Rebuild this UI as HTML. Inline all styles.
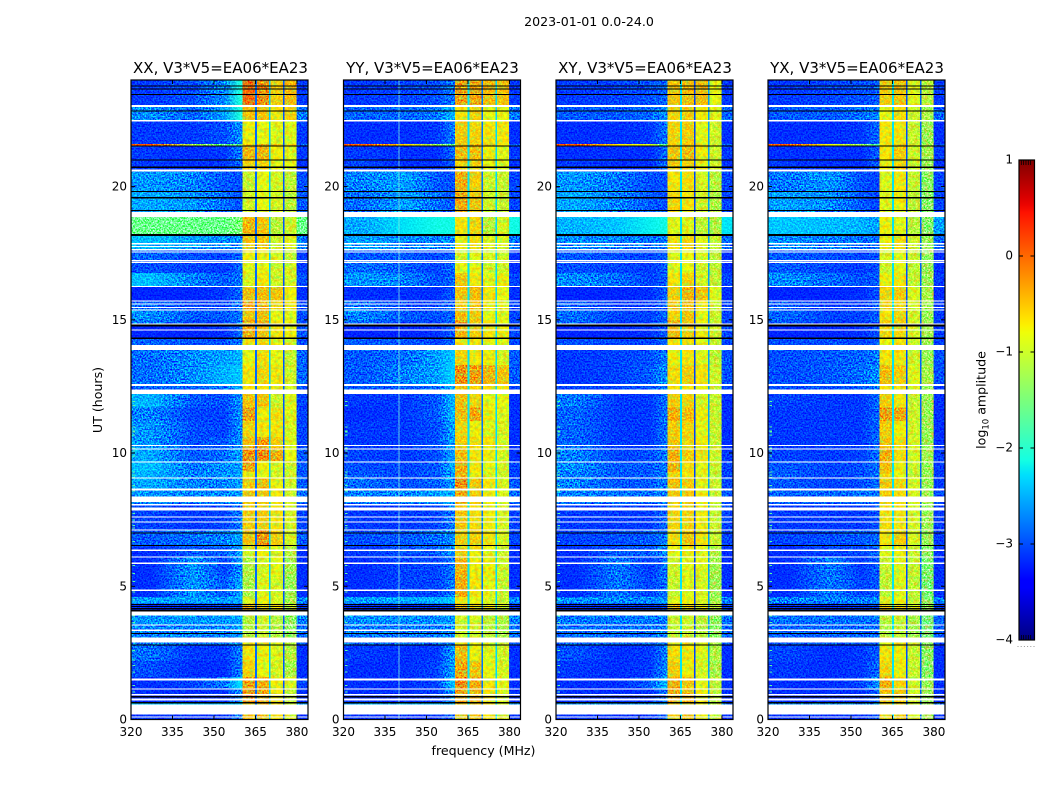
<!DOCTYPE html>
<html lang="en">
<head>
<meta charset="utf-8">
<title>2023-01-01 0.0-24.0</title>
<style>
html,body{margin:0;padding:0;background:#fff;width:1050px;height:800px;overflow:hidden}
svg{display:block}
text{font-family:"DejaVu Sans","Liberation Sans",sans-serif;fill:#000}
.tick{font-size:12px}
.title{font-size:15px}
.label{font-size:12.6px}
.heat-root{isolation:isolate}
.noise{mix-blend-mode:overlay}
</style>
</head>
<body>
<svg id="figure" width="1050" height="800" viewBox="0 0 1050 800" xmlns="http://www.w3.org/2000/svg">
  <defs id="defs">
    <filter id="speckle" x="0" y="0" width="1" height="1" color-interpolation-filters="sRGB">
      <feTurbulence type="fractalNoise" baseFrequency="0.62" numOctaves="2" seed="7"/>
      <feColorMatrix type="matrix" values="2.4 0 0 0 -0.7  2.4 0 0 0 -0.7  2.4 0 0 0 -0.7  0 0 0 0 1"/>
    </filter>
    <filter id="band-speckle-green" x="0" y="0" width="1" height="1" color-interpolation-filters="sRGB">
      <feTurbulence type="fractalNoise" baseFrequency="0.3" numOctaves="2" seed="11"/>
      <feColorMatrix type="matrix" values="0 0 0 0 0.35  0 0 0 0 1  0 0 0 0 0.45  1.5 0 0 0 -0.65"/>
    </filter>
    <filter id="band-speckle-orange" x="0" y="0" width="1" height="1" color-interpolation-filters="sRGB">
      <feTurbulence type="fractalNoise" baseFrequency="0.28" numOctaves="2" seed="23"/>
      <feColorMatrix type="matrix" values="0 0 0 0 1  0 0 0 0 0.55  0 0 0 0 0  1.3 0 0 0 -0.58"/>
    </filter>
    <linearGradient id="jet-gradient" x1="0" y1="1" x2="0" y2="0"></linearGradient>
  </defs>
  <rect width="1050" height="800" fill="#fff"/>
  <text x="589" y="26" text-anchor="middle" style="font-size:12.6px">2023-01-01 0.0-24.0</text>

  <g id="panel-xx"><text class="title" x="220.5" y="73" text-anchor="middle">XX, V3*V5=EA06*EA23</text></g>
  <g id="panel-yy"><text class="title" x="432.5" y="73" text-anchor="middle">YY, V3*V5=EA06*EA23</text></g>
  <g id="panel-xy"><text class="title" x="645" y="73" text-anchor="middle">XY, V3*V5=EA06*EA23</text></g>
  <g id="panel-yx"><text class="title" x="857" y="73" text-anchor="middle">YX, V3*V5=EA06*EA23</text></g>

  <text class="label" x="483.5" y="755" text-anchor="middle">frequency (MHz)</text>
  <text class="label" transform="translate(102,400) rotate(-90)" text-anchor="middle">UT (hours)</text>

  <g id="colorbar">
    <rect x="1019" y="160" width="15.5" height="480" fill="url(#jet-gradient)"/>
    <line x1="1017.5" y1="646.5" x2="1034.5" y2="646.5" stroke="#999" stroke-width="1" stroke-dasharray="1 2.2"/>
    <text class="label" transform="translate(985.5,400) rotate(-90)" text-anchor="middle">log<tspan dy="3" font-size="8.5">10</tspan><tspan dy="-3"> amplitude</tspan></text>
  </g>
</svg>

<script>
/* Shared axis values */
const xTickLabels = [320, 335, 350, 365, 380];
const yTickLabels = [0, 5, 10, 15, 20];
const colorbarTicks = [1, 0, -1, -2, -3, -4];
const colorbarMinorOffsets = [0.15, 0.3, 0.45, 0.6, 0.75];

/* Row boundaries in UT (hours), top to bottom */
const rowEdgesUT = [24,23,22.5,21.6,21.54,21,20.6,19.8,19.05,18.2,17.6,17.2,16.75,16.25,15.7,15.4,15,14.8,14.3,14,13.3,12.6,12.3,11.7,11.2,10.6,10.2,9.7,9.3,9.05,8.6,8.1,7.1,6.5,6.1,5.4,4.6,4.35,4.05,3.55,3.1,2.8,2.2,1.6,1.15,0.6,0.2,0];

/* Frequency bins in MHz; negative index = gap between sub-bands */
const freqEdges = [320,335,350,358,360.4,364.8,365.5,369.9,370.5,374.9,375.5,379.9,384];
const freqLevelIndex = [0,1,2,3,4,-1,5,-2,6,-3,7,8];
const lowBandCenters = [327.5,342.5,354,359.4];

/* Level of the three narrow sub-band gaps per panel */
const gapLevelsXX = [-2.85,-2.35,-2.95];
const gapLevelsYY = [-2.25,-2.8,-2.3];
const gapLevelsXY = [-2.25,-3.05,-2.6];
const gapLevelsYX = [-2.25,-3,-2.9];

/* Flagged (white) UT intervals */
const flaggedUT = [[22.99,23.06],[22.45,22.5],[20.56,20.64],[18.86,19.05],[17.83,17.88],[17.73,17.77],[17.6,17.65],[17.52,17.56],[17.2,17.24],[17.14,17.18],[16.23,16.27],[15.69,15.73],[15.57,15.61],[15.46,15.49],[15.35,15.38],[14.83,14.87],[14.6,14.64],[13.87,14.05],[12.52,12.6],[12.22,12.38],[10.27,10.31],[10.13,10.17],[9.64,9.68],[9.04,9.08],[8.59,8.66],[8.17,8.36],[8.04,8.08],[7.84,7.95],[7.58,7.62],[7.39,7.43],[7.09,7.13],[6.32,6.38],[6.08,6.11],[5.84,5.89],[4.83,4.88],[3.9,4.05],[3.53,3.56],[3.33,3.38],[2.89,3.08],[1.46,1.54],[1.13,1.16],[0.9,0.96],[0.71,0.79],[0.19,0.56],[0.08,0.11]];

/* Zero-amplitude (black) UT lines: [ut, thickness in hours] */
const blackUT = [[23.78,0.04],[23.66,0.04],[23.46,0.04],[22.84,0.04],[21.53,0.04],[20.99,0.04],[20.73,0.06],[19.81,0.04],[19.58,0.04],[19.11,0.04],[18.18,0.07],[14.78,0.07],[14.31,0.07],[7,0.04],[6.53,0.04],[4.32,0.045],[4.24,0.045],[4.16,0.045],[4.08,0.045],[3.23,0.04],[2.79,0.04],[0.86,0.05],[0.63,0.05]];

/* UT of the small green specks along the left edge of every panel */
const edgeSpeckUT = [11.95,11.8,11,10.85,10.8,10.7,10.2,10.1,9.9,9.3,9.2,9.1,8.8,8.6,7.75,7.5,7.3,7.2,6.7,5.8,5.5,5.2,4.8,4.5,3.9,3.65,2.6,2.25,2.05,1.8,1.5,1.3,1.05];
const edgeSpeckLevel = -1.7;

/* log10 amplitude per row: 320-335, 335-350, 350-358, 358-360, four bands, 380-384 */
const levelsXX = [
[-3.1,-3.0,-2.7,-2.1,0.1,-.15,-.55,-.45,-3.1],
[-2.7,-2.9,-2.6,-2.1,-.5,-.5,-.7,-.6,-2.8],
[-3.1,-3.1,-3.0,-2.7,-.75,-.8,-.85,-.85,-3.1],
[0.1,-1.2,-1.6,-1.6,-.5,-.3,-.5,-.6,-2.9],
[-3.1,-3.15,-3.1,-2.8,-.4,-.4,-.75,-.85,-3.1],
[-3.1,-3.15,-3.1,-2.9,-.6,-.6,-.8,-.8,-3.15],
[-2.65,-2.75,-2.95,-3,-1,-.8,-.9,-1.05,-3],
[-2.55,-2.65,-2.85,-3,-.95,-.8,-.9,-1.05,-2.95],
[-1.6,-1.6,-1.6,-1.5,-.4,-.5,-1.1,-.95,-1.6],
[-2.45,-2.6,-2.7,-2.7,-.5,-.5,-.95,-.85,-2.8],
[-2.9,-3,-3.05,-2.9,-.75,-.75,-.85,-1,-3.1],
[-3,-3.05,-3.1,-2.9,-.85,-.8,-.95,-.9,-3.1],
[-2.45,-2.75,-2.95,-2.8,-.9,-.7,-.95,-.9,-3],
[-3.2,-3.2,-3.1,-2.9,-.45,-.45,-.5,-.75,-3.15],
[-2.9,-3.05,-3.05,-2.8,-.3,-.35,-.6,-.7,-3],
[-2.7,-2.95,-2.95,-2.8,-.5,-.45,-.8,-.85,-3],
[-2.8,-3.05,-3.05,-2.8,-.3,-.4,-.7,-.8,-3],
[-3.2,-3.2,-3.15,-2.9,-.35,-.5,-.7,-.75,-3],
[-2.9,-3,-3,-2.8,-.7,-.6,-.8,-.9,-3],
[-2.85,-2.7,-2.6,-2.5,-.8,-.65,-.8,-1,-2.9],
[-2.85,-2.7,-2.5,-2.4,-.7,-.6,-.7,-.95,-2.9],
[-2.9,-2.9,-2.85,-2.6,-.7,-.7,-.7,-.9,-3],
[-2.5,-2.95,-3,-2.7,-.5,-.5,-.95,-.85,-3.05],
[-2.75,-3.05,-3.05,-2.7,-.25,-.75,-.65,-.85,-3.05],
[-2.65,-3,-3.05,-2.7,-.6,-.7,-.7,-.9,-3.05],
[-2.65,-3,-2.95,-2.7,-.45,-.25,-.55,-.85,-3.05],
[-2.55,-2.95,-2.85,-2.6,-.15,-.1,-.35,-.8,-2.95],
[-2.45,-2.8,-2.7,-2.6,-.3,-.75,-.85,-.95,-2.95],
[-2.5,-2.75,-2.65,-2.6,-.75,-.8,-.9,-.95,-2.95],
[-2.55,-2.75,-2.75,-2.6,-.55,-.45,-.75,-.95,-2.95],
[-2.65,-2.75,-2.75,-2.6,-.5,-.5,-.7,-.95,-2.85],
[-3.05,-3.1,-3.05,-2.8,-.55,-.55,-.7,-.9,-3.05],
[-2.95,-2.85,-2.75,-2.6,-.5,-.2,-.55,-.9,-2.95],
[-3.15,-2.95,-2.95,-2.6,-.9,-.75,-.85,-1.1,-3.15],
[-3.15,-2.65,-3.05,-2.7,-1.15,-.9,-.8,-1.25,-3.15],
[-3.15,-2.65,-2.95,-2.6,-1.2,-.85,-.9,-1.3,-3.15],
[-2.6,-2.6,-2.6,-2.55,-.9,-.75,-.9,-1.2,-2.75],
[-3.15,-3.15,-3.1,-3,-.4,-.6,-.7,-1,-3.1],
[-2.65,-2.65,-2.65,-2.6,-1.1,-.95,-1.1,-1.4,-2.75],
[-2.75,-2.75,-2.75,-2.6,-1.15,-1,-1.15,-1.4,-2.85],
[-2.75,-2.85,-2.85,-2.7,-.7,-.6,-.8,-1.1,-2.95],
[-2.85,-3.1,-3.1,-2.8,-.7,-.75,-.85,-1.1,-3.15],
[-3,-3.15,-3.15,-2.8,-.6,-.8,-.9,-1.2,-3.15],
[-3.15,-3.05,-2.8,-2.3,-.25,-.35,-.75,-.85,-3.05],
[-3.15,-3.15,-3.15,-2.7,-.2,-.3,-.7,-1,-3.15],
[-2.4,-2.4,-2.4,-2.4,-.5,-.4,-.7,-1,-2.6],
[-3.15,-3.15,-3.15,-2.8,-.5,-.4,-.7,-.9,-3.15]
];
const levelsYY = [
[-3.1,-3.05,-3,-2.8,-.25,-.3,-.45,-.5,-3.1],
[-2.9,-2.9,-2.8,-2.5,-.7,-.6,-.8,-.8,-2.8],
[-3.15,-3.15,-3.1,-2.8,-.55,-.6,-.7,-.7,-3.15],
[0.1,-.6,-1.3,-1.6,-.45,-.4,-.5,-.7,-2.9],
[-3.1,-3.15,-3.15,-2.9,-.45,-.45,-.75,-.85,-3.1],
[-3.05,-3.15,-3.15,-2.95,-.6,-.55,-.8,-.85,-3.15],
[-2.75,-2.6,-2.95,-3,-.35,-.55,-.95,-1,-3.05],
[-2.85,-2.6,-2.85,-2.95,-.3,-.5,-.95,-1,-3.05],
[-2.55,-2.25,-2.15,-2.15,-.7,-.6,-1.1,-.9,-2.15],
[-2.6,-2.7,-2.75,-2.7,-.75,-.65,-.85,-.85,-2.8],
[-2.95,-2.95,-3.05,-2.9,-.9,-.85,-.9,-.95,-3.15],
[-2.85,-2.95,-3.05,-2.9,-.8,-.8,-.95,-.95,-3.15],
[-2.65,-2.75,-3,-2.9,-.5,-.7,-.85,-.75,-3.05],
[-3.15,-3.15,-3.15,-2.95,-.5,-.45,-.7,-.8,-3.15],
[-2.85,-3.05,-3.05,-2.9,-.55,-.5,-.75,-.8,-3.05],
[-2.75,-2.95,-3,-2.9,-.45,-.55,-.8,-.85,-3.05],
[-2.85,-3.05,-3.05,-2.9,-.3,-.5,-.7,-.8,-3.05],
[-3.2,-3.2,-3.15,-2.95,-.4,-.55,-.7,-.75,-3.05],
[-2.95,-2.95,-3.05,-2.9,-.7,-.7,-.8,-.85,-3.05],
[-2.95,-2.85,-2.6,-2.4,-.6,-.7,-.75,-.9,-2.95],
[-2.95,-2.75,-2.6,-2.35,-.15,-.25,-.4,-.5,-2.95],
[-2.95,-2.95,-2.85,-2.55,-.5,-.6,-.65,-.7,-3.05],
[-3.1,-3.1,-2.95,-2.5,-.45,-.6,-.8,-.8,-3.15],
[-3.15,-3.1,-2.95,-2.5,-.45,-.3,-.75,-.85,-3.15],
[-3.1,-3.1,-3,-2.6,-.6,-.75,-.85,-.9,-3.15],
[-3.1,-3.1,-3,-2.6,-.55,-.65,-.7,-.9,-3.15],
[-3.05,-3.1,-3,-2.6,-.45,-.7,-.75,-.9,-3.15],
[-3,-3.05,-2.95,-2.55,-.35,-.7,-.8,-.9,-3.05],
[-2.95,-3.05,-2.95,-2.6,-.4,-.75,-.85,-.95,-3.05],
[-2.85,-3,-2.9,-2.65,-.1,-.5,-.7,-.9,-2.95],
[-2.75,-2.75,-2.6,-2.55,-.3,-.55,-.75,-.9,-2.85],
[-3.1,-3.1,-3.05,-2.8,-.5,-.65,-.75,-.9,-3.05],
[-3,-2.95,-2.85,-2.7,-.55,-.55,-.7,-.9,-3.05],
[-3.1,-3,-2.95,-2.7,-.55,-.75,-.85,-1,-3.15],
[-3.15,-3.05,-3.05,-2.8,-.4,-.75,-.75,-.95,-3.15],
[-3.15,-3.05,-3.05,-2.8,-.35,-.7,-.8,-1,-3.15],
[-2.6,-2.55,-2.5,-2.4,-.7,-.8,-.9,-1,-2.75],
[-3.15,-3.15,-3.1,-3.05,-.4,-.6,-.7,-.9,-3.1],
[-2.7,-2.7,-2.7,-2.65,-.95,-.9,-1.05,-1.15,-2.75],
[-2.8,-2.8,-2.8,-2.7,-.95,-.95,-1.1,-1.2,-2.85],
[-2.85,-2.85,-2.85,-2.75,-.7,-.75,-.85,-1,-2.95],
[-3.1,-3.15,-3.1,-2.65,-.45,-.75,-.85,-.95,-3.15],
[-3.15,-3.15,-3.05,-2.6,-.3,-.5,-.8,-.9,-3.15],
[-3.15,-3.15,-3.05,-2.45,-.1,-.35,-.7,-.8,-3.15],
[-3.15,-3.15,-3.1,-2.7,-.3,-.4,-.7,-.85,-3.15],
[-2.5,-2.5,-2.5,-2.5,-.5,-.5,-.7,-.9,-2.65],
[-3.15,-3.15,-3.15,-2.9,-.5,-.45,-.7,-.9,-3.15]
];
const levelsXY = [
[-3.1,-3.05,-3,-2.9,-.5,-.45,-.45,-.8,-3.1],
[-2.95,-2.95,-2.9,-2.7,-.6,-.55,-.75,-.85,-2.9],
[-3.15,-3.15,-3.1,-2.85,-.6,-.55,-.8,-.95,-3.15],
[0.1,-.7,-.9,-1.7,-.5,-.45,-.65,-.9,-2.95],
[-3.15,-3.15,-3.15,-2.9,-.5,-.45,-.75,-.95,-3.1],
[-3.1,-3.15,-3.15,-2.9,-.55,-.6,-.8,-.95,-3.15],
[-2.65,-2.8,-3,-3,-.7,-.65,-.9,-1.1,-3.05],
[-2.55,-2.75,-2.95,-3,-.6,-.7,-.95,-1.15,-3.05],
[-2.5,-2.4,-2.2,-2.15,-.85,-.85,-1.05,-1.15,-2.25],
[-2.7,-2.75,-2.85,-2.8,-.65,-.6,-.85,-1,-2.85],
[-2.95,-3,-3.05,-2.95,-.85,-.8,-.9,-1.1,-3.15],
[-3,-3.05,-3.1,-2.95,-.85,-.8,-.95,-1.05,-3.15],
[-2.7,-2.85,-3.05,-2.95,-.7,-.6,-.9,-1.05,-3.05],
[-3.2,-3.2,-3.15,-2.95,-.55,-.4,-.5,-.85,-3.15],
[-2.95,-3.1,-3.1,-2.9,-.5,-.45,-.7,-.95,-3.05],
[-2.85,-3.05,-3.05,-2.9,-.6,-.5,-.8,-1,-3.05],
[-2.9,-3.1,-3.1,-2.9,-.4,-.5,-.75,-.95,-3.05],
[-3.2,-3.2,-3.15,-2.95,-.45,-.55,-.75,-.95,-3.05],
[-3,-3.05,-3.05,-2.9,-.7,-.65,-.8,-1,-3.05],
[-3.1,-3.05,-3,-2.8,-.75,-.7,-.85,-1.05,-3],
[-3.1,-3.05,-2.95,-2.7,-.65,-.55,-.7,-.95,-3],
[-3.05,-3.05,-3,-2.8,-.7,-.7,-.75,-1,-3.05],
[-2.8,-3.1,-3.1,-2.85,-.55,-.6,-.9,-1,-3.15],
[-2.9,-3.1,-3.1,-2.85,-.35,-.45,-.75,-1,-3.15],
[-2.9,-3.1,-3.1,-2.85,-.55,-.6,-.8,-1,-3.15],
[-2.9,-3.1,-3.1,-2.85,-.5,-.6,-.75,-1,-3.15],
[-2.75,-3.05,-3,-2.8,-.35,-.55,-.7,-.95,-3.1],
[-2.7,-2.95,-2.95,-2.8,-.35,-.65,-.8,-1,-3.05],
[-2.75,-2.95,-2.95,-2.8,-.6,-.7,-.85,-1.05,-3.05],
[-2.75,-2.95,-2.95,-2.8,-.45,-.55,-.8,-1,-3.05],
[-2.75,-2.85,-2.85,-2.75,-.5,-.55,-.75,-1,-2.95],
[-3.1,-3.1,-3.1,-2.9,-.6,-.6,-.75,-1,-3.05],
[-3.05,-3,-2.95,-2.8,-.65,-.5,-.7,-1,-3.05],
[-3.15,-2.95,-2.95,-2.75,-.8,-.75,-.85,-1.15,-3.15],
[-3.15,-2.8,-3.1,-2.85,-.95,-.85,-.85,-1.25,-3.15],
[-3.15,-2.8,-3.05,-2.85,-1,-.85,-.9,-1.3,-3.15],
[-2.7,-2.7,-2.7,-2.65,-.85,-.75,-.9,-1.2,-2.75],
[-3.15,-3.15,-3.1,-3.05,-.5,-.6,-.75,-1.05,-3.1],
[-2.8,-2.8,-2.8,-2.75,-1,-.95,-1.1,-1.4,-2.85],
[-2.85,-2.85,-2.85,-2.75,-1.05,-1,-1.15,-1.4,-2.9],
[-2.9,-2.9,-2.9,-2.8,-.7,-.65,-.85,-1.15,-2.95],
[-3,-3.15,-3.1,-2.8,-.65,-.7,-.85,-1.15,-3.15],
[-3.1,-3.15,-3.1,-2.75,-.55,-.75,-.9,-1.2,-3.15],
[-3.15,-3.15,-2.95,-2.5,-.35,-.5,-.8,-1.05,-3.15],
[-3.15,-3.15,-3.15,-2.8,-.35,-.45,-.75,-1.05,-3.15],
[-2.6,-2.6,-2.6,-2.6,-.55,-.5,-.75,-1.05,-2.75],
[-3.15,-3.15,-3.15,-2.9,-.55,-.5,-.75,-1,-3.15]
];
const levelsYX = [
[-3.1,-3.05,-3,-2.95,-.55,-.5,-.85,-1.1,-3.1],
[-2.95,-2.95,-2.85,-2.75,-.8,-.65,-.95,-1.2,-2.9],
[-3.15,-3.15,-3.1,-2.9,-.7,-.7,-1,-1.3,-3.15],
[0.1,-.8,-1.3,-1.8,-.7,-.5,-.9,-1.2,-3],
[-3.15,-3.15,-3.15,-2.95,-.7,-.55,-.95,-1.25,-3.1],
[-3.1,-3.15,-3.15,-2.95,-.75,-.6,-.95,-1.3,-3.15],
[-2.8,-2.65,-3,-3.05,-.85,-.7,-1,-1.4,-3.05],
[-2.6,-2.7,-2.95,-3.05,-.85,-.75,-1.05,-1.45,-3.05],
[-2.4,-2.45,-2.5,-2.6,-.75,-.85,-1.1,-1.45,-2.6],
[-2.7,-2.75,-2.85,-2.85,-.75,-.65,-.95,-1.3,-2.9],
[-2.95,-3,-3.05,-3,-.9,-.8,-1,-1.35,-3.15],
[-2.95,-3.05,-3.1,-3,-.95,-.8,-1.05,-1.35,-3.15],
[-2.7,-2.85,-3,-2.95,-.75,-.7,-1,-1.3,-3.1],
[-3.2,-3.2,-3.15,-3,-.6,-.55,-.85,-1.2,-3.15],
[-2.95,-3.1,-3.1,-2.95,-.6,-.6,-.9,-1.25,-3.1],
[-2.9,-3.05,-3.05,-2.95,-.7,-.6,-.95,-1.3,-3.1],
[-2.95,-3.1,-3.1,-2.95,-.55,-.55,-.9,-1.25,-3.1],
[-3.2,-3.2,-3.15,-3,-.6,-.6,-.9,-1.25,-3.1],
[-3,-3,-3.05,-2.95,-.8,-.7,-.95,-1.3,-3.1],
[-3,-2.95,-2.9,-2.8,-.7,-.7,-.95,-1.3,-3],
[-3,-2.95,-2.85,-2.7,-.45,-.55,-.85,-1.2,-3],
[-3,-3,-2.95,-2.8,-.7,-.7,-.9,-1.3,-3.1],
[-3.05,-3.1,-3.1,-2.9,-.55,-.7,-1,-1.3,-3.15],
[-3.1,-3.1,-3.1,-2.9,-.25,-.3,-.95,-1.3,-3.15],
[-3.1,-3.1,-3.1,-2.9,-.55,-.75,-.95,-1.3,-3.15],
[-3.1,-3.1,-3.1,-2.9,-.5,-.65,-.9,-1.3,-3.15],
[-3.05,-3.1,-3.05,-2.85,-.35,-.65,-.9,-1.25,-3.1],
[-2.95,-3.05,-3,-2.85,-.45,-.75,-.95,-1.3,-3.1],
[-2.95,-3.05,-3,-2.85,-.6,-.8,-1,-1.3,-3.1],
[-2.95,-3.05,-3,-2.9,-.5,-.65,-.9,-1.3,-3.1],
[-2.9,-2.9,-2.85,-2.85,-.55,-.65,-.9,-1.25,-3],
[-3.1,-3.1,-3.1,-3,-.65,-.7,-.9,-1.3,-3.1],
[-3.05,-3,-2.95,-2.9,-.7,-.55,-.9,-1.3,-3.1],
[-3.15,-3.05,-3.05,-2.9,-.85,-.75,-1,-1.4,-3.15],
[-3.15,-2.8,-3.1,-2.95,-1,-.85,-1,-1.5,-3.15],
[-3.15,-2.8,-3.05,-2.95,-1.05,-.85,-1.05,-1.55,-3.15],
[-2.75,-2.75,-2.75,-2.7,-.9,-.8,-1.05,-1.45,-2.8],
[-3.15,-3.15,-3.1,-3.05,-.55,-.65,-.85,-1.3,-3.1],
[-2.85,-2.85,-2.85,-2.85,-1.1,-1,-1.2,-1.6,-2.9],
[-2.9,-2.9,-2.9,-2.85,-1.15,-1.05,-1.25,-1.6,-2.95],
[-2.95,-2.95,-2.95,-2.9,-.8,-.7,-.95,-1.35,-3],
[-3.05,-3.15,-3.1,-2.95,-.7,-.75,-1,-1.4,-3.15],
[-3.1,-3.15,-3.1,-2.9,-.6,-.75,-1,-1.45,-3.15],
[-3.15,-3.15,-3.05,-2.7,-.35,-.6,-.95,-1.3,-3.15],
[-3.15,-3.15,-3.15,-2.9,-.45,-.55,-.9,-1.3,-3.15],
[-2.65,-2.65,-2.65,-2.65,-.6,-.55,-.9,-1.3,-2.75],
[-3.15,-3.15,-3.15,-3,-.6,-.55,-.9,-1.25,-3.15]
];

const SVG_NS = 'http://www.w3.org/2000/svg';
const PLOT_TOP = 80, PLOT_BOTTOM = 719.5;
const CBAR_TOP = 160, CBAR_BOTTOM = 640, CBAR_LEFT = 1019, CBAR_RIGHT = 1034.5;
const defsEl = document.getElementById('defs');

function make(tag, attrs, parent) {
  const el = document.createElementNS(SVG_NS, tag);
  for (const k in attrs) el.setAttribute(k, attrs[k]);
  parent.appendChild(el);
  return el;
}
function interp(t, xs, ys) {
  if (t <= xs[0]) return ys[0];
  for (let i = 1; i < xs.length; i++) {
    if (t <= xs[i]) return ys[i-1] + (ys[i]-ys[i-1]) * (t-xs[i-1])/(xs[i]-xs[i-1]);
  }
  return ys[ys.length-1];
}
function jet(t) {
  const r = interp(t,[0,.35,.66,.89,1],[0,0,1,1,.5]);
  const g = interp(t,[0,.125,.375,.64,.91,1],[0,0,1,1,0,0]);
  const b = interp(t,[0,.11,.34,.65,1],[.5,1,1,0,0]);
  return 'rgb('+Math.round(r*255)+','+Math.round(g*255)+','+Math.round(b*255)+')';
}
function levelColor(v) { return jet((v+4)/5); }
function yScale(ut) { return PLOT_BOTTOM - ut*(PLOT_BOTTOM-PLOT_TOP)/24; }
function cbarY(v) { return CBAR_BOTTOM - (v+4)*(CBAR_BOTTOM-CBAR_TOP)/5; }

function drawPanel(groupId, left, levels, gapLevels, rfiFreq) {
  const g = document.getElementById(groupId);
  const width = 177;
  const xScale = f => left + (f-320)*width/64;
  const root = make('g', {class:'heat-root'}, g);
  
  
  const heat = make('g', {'shape-rendering':'crispEdges'}, root);
  
  
  for (let r = 0; r < levels.length; r++) {
    const y0 = yScale(rowEdgesUT[r]), y1 = yScale(rowEdgesUT[r+1]);
    const gradId = groupId + '-row-' + r;
    const grad = make('linearGradient', {id:gradId, gradientUnits:'userSpaceOnUse', x1:xScale(320), x2:xScale(360.4), y1:0, y2:0}, defsEl);
    const span = 360.4 - 320;
    for (let s = 0; s < lowBandCenters.length; s++) {
      make('stop', {offset:(lowBandCenters[s]-320)/span, 'stop-color':levelColor(levels[r][s])}, grad);
    }
    for (let c = 0; c < freqLevelIndex.length; c++) {
      const idx = freqLevelIndex[c];
      const x0 = xScale(freqEdges[c]), x1 = xScale(freqEdges[c+1]);
      let fill;
      if (idx < 0) fill = levelColor(gapLevels[-idx-1]);
      else if (idx < 4) fill = 'url(#' + gradId + ')';
      else fill = levelColor(levels[r][idx]);
      const cell = make('rect', {x:x0, y:y0, width:x1-x0+0.3, height:y1-y0+0.3, fill:fill}, heat);
      
      
    }
  }
  const speckle = make('rect', {x:left, y:PLOT_TOP, width:width, height:PLOT_BOTTOM-PLOT_TOP, filter:'url(#speckle)', class:'noise'}, root);
  
  
  const bandX = xScale(360.4), bandW = xScale(379.9) - bandX;
  const bandGreen = make('rect', {x:bandX, y:PLOT_TOP, width:bandW, height:PLOT_BOTTOM-PLOT_TOP, filter:'url(#band-speckle-green)'}, root);
  
  
  const bandOrange = make('rect', {x:bandX, y:PLOT_TOP, width:bandW, height:PLOT_BOTTOM-PLOT_TOP, filter:'url(#band-speckle-orange)'}, root);
  
  
  /* sub-band gaps stay clean on top of the band texture */
  for (let c = 0; c < freqLevelIndex.length; c++) {
    const idx = freqLevelIndex[c];
    if (idx >= 0) continue;
    const gapRect = make('rect', {x:xScale(freqEdges[c]), y:PLOT_TOP, width:xScale(freqEdges[c+1])-xScale(freqEdges[c]), height:PLOT_BOTTOM-PLOT_TOP, fill:levelColor(gapLevels[-idx-1]), 'shape-rendering':'crispEdges'}, root);
    
    
  }
  for (const ut of edgeSpeckUT) {
    const sp = make('rect', {x:left+1.5, y:yScale(ut), width:2.5, height:1, fill:levelColor(edgeSpeckLevel), 'shape-rendering':'crispEdges'}, g);
    
    
  }
  if (rfiFreq) {
    const rfi = make('line', {x1:xScale(rfiFreq), x2:xScale(rfiFreq), y1:PLOT_TOP, y2:PLOT_BOTTOM, stroke:'#7ff0e0', 'stroke-width':1, 'stroke-opacity':.75, 'shape-rendering':'crispEdges'}, g);
    
    
  }
  for (const [a,b] of flaggedUT) {
    const w = make('rect', {x:left, y:yScale(b), width:width, height:Math.max(1,yScale(a)-yScale(b)), fill:'#fff','shape-rendering':'crispEdges'}, g);
    
    
  }
  for (const [ut,h] of blackUT) {
    const k = make('rect', {x:left, y:yScale(ut+h/2), width:width, height:Math.max(1,h*640/24), fill:'#000','shape-rendering':'crispEdges'}, g);
    
    
  }
  const frame = make('rect', {x:left, y:PLOT_TOP, width:width, height:PLOT_BOTTOM-PLOT_TOP, fill:'none', stroke:'#000','stroke-width':1.2}, g);
  
  
  for (const t of xTickLabels) {
    const x = xScale(t);
    for (const pair of [[PLOT_BOTTOM,PLOT_BOTTOM-4],[PLOT_TOP,PLOT_TOP+4]]) {
      const tk = make('line', {x1:x,x2:x,y1:pair[0],y2:pair[1],stroke:'#000','stroke-width':1}, g);
      
      
    }
    const lb = make('text', {x:x, y:736, 'text-anchor':'middle', class:'tick'}, g);
    lb.textContent = t;
    
    
  }
  for (const t of yTickLabels) {
    const y = yScale(t);
    for (const pair of [[left,left+4],[left+width,left+width-4]]) {
      const tk = make('line', {x1:pair[0],x2:pair[1],y1:y,y2:y,stroke:'#000','stroke-width':1}, g);
      
      
    }
    const lb = make('text', {x:left-4, y:y+4, 'text-anchor':'end', class:'tick'}, g);
    lb.textContent = t;
    
    
  }
}

drawPanel('panel-xx', 131, levelsXX, gapLevelsXX, null);
drawPanel('panel-yy', 343.5, levelsYY, gapLevelsYY, 340);
drawPanel('panel-xy', 556, levelsXY, gapLevelsXY, null);
drawPanel('panel-yx', 768, levelsYX, gapLevelsYX, null);

/* Colorbar */
(function () {
  const grad = document.getElementById('jet-gradient');
  for (let i = 0; i <= 64; i++) {
    make('stop', {offset:(i/64), 'stop-color':jet(i/64)}, grad);
  }
  const cb = document.getElementById('colorbar');
  const frame = make('rect', {x:CBAR_LEFT, y:CBAR_TOP, width:CBAR_RIGHT-CBAR_LEFT, height:CBAR_BOTTOM-CBAR_TOP, fill:'none', stroke:'#000','stroke-width':1.2}, cb);
  
  
  for (const v of colorbarTicks) {
    const y = cbarY(v);
    for (const pair of [[CBAR_LEFT,CBAR_LEFT+4],[CBAR_RIGHT,CBAR_RIGHT-4]]) {
      const tk = make('line', {x1:pair[0],x2:pair[1],y1:y,y2:y,stroke:'#000','stroke-width':1}, cb);
      
      
    }
    const lb = make('text', {x:CBAR_LEFT-6, y:y+3.5, 'text-anchor':'end', class:'tick'}, cb);
    lb.textContent = v < 0 ? '\u2212' + Math.abs(v) : String(v);
    
    
  }
  for (const offset of colorbarMinorOffsets) {
    const x = CBAR_LEFT + offset * (CBAR_RIGHT - CBAR_LEFT);
    const lo = make('line', {x1:x,x2:x,y1:CBAR_BOTTOM,y2:CBAR_BOTTOM-5,stroke:'#000','stroke-width':.8}, cb);
    
    
    const hi = make('line', {x1:x,x2:x,y1:CBAR_TOP,y2:CBAR_TOP+5,stroke:'#000','stroke-width':.8}, cb);
    
    
  }
})();
</script>
</body>
</html>
